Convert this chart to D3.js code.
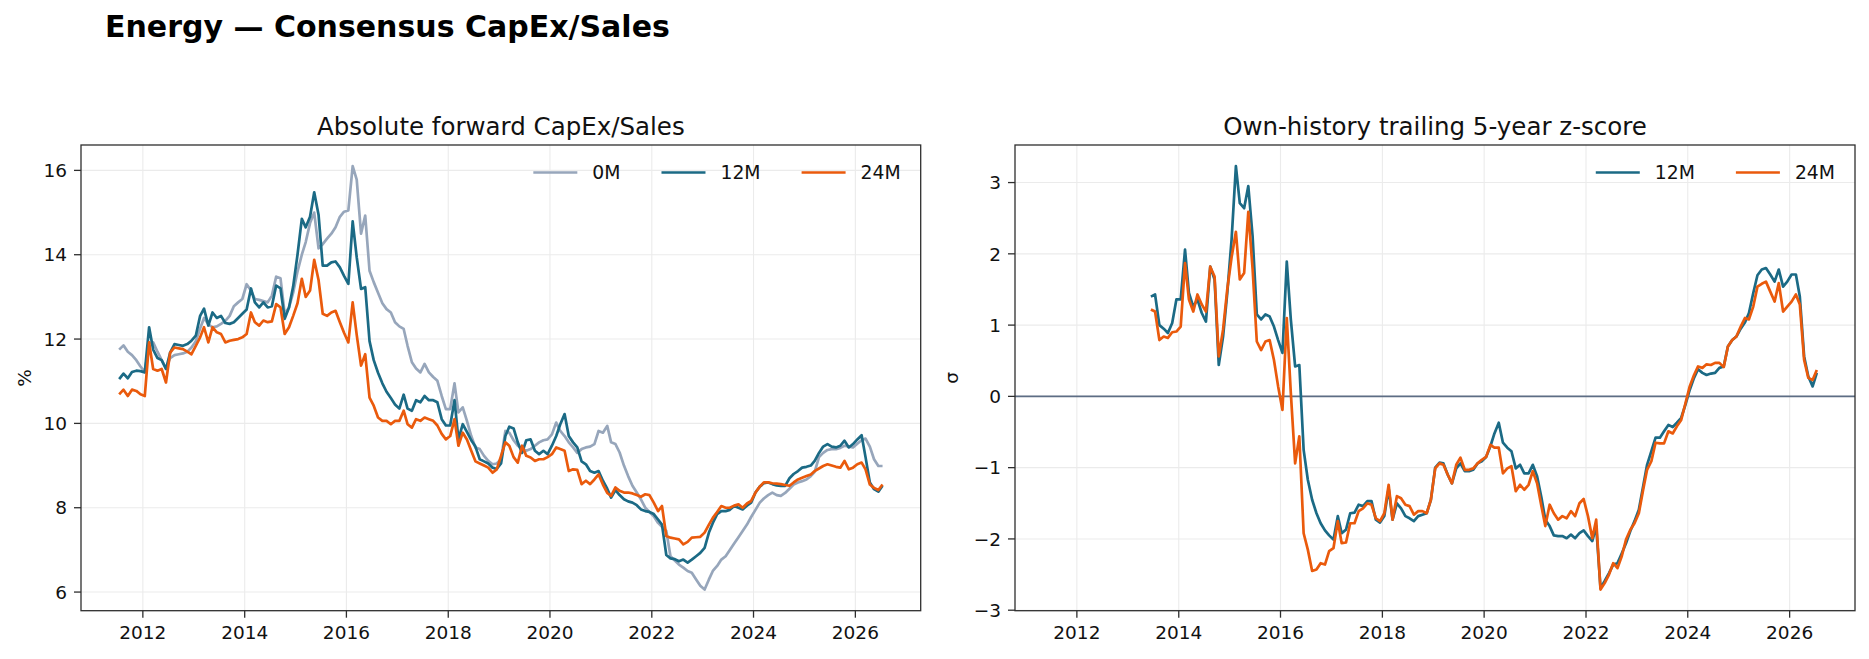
<!DOCTYPE html>
<html>
<head>
<meta charset="utf-8">
<title>Energy — Consensus CapEx/Sales</title>
<script src="https://d3js.org/d3.v7.min.js"></script>
<style>
  body { margin: 0; background: #fff; }
  svg { display: block; font-family: "DejaVu Sans", sans-serif; }
</style>
</head>
<body>
<svg id="chart" width="1869" height="659"></svg>
<script>
// monthly consensus CapEx/Sales (%), first observation mid-July 2011
const firstMonth = new Date(2011, 6, 15);
const capex0M = [
  11.75, 11.85, 11.7, 11.62, 11.5, 11.35, 11.22, 11.9, 11.92, 11.7, 11.5, 11.3,
  11.55, 11.62, 11.64, 11.66, 11.7, 11.8, 11.95, 12.25, 12.5, 12.35, 12.28, 12.3,
  12.36, 12.43, 12.55, 12.78, 12.87, 12.95, 13.3, 13.15, 12.95, 12.93, 12.9, 12.87,
  13.03, 13.48, 13.44, 12.6, 12.75, 13.1, 13.6, 14.0, 14.3, 14.75, 15.0, 14.15,
  14.25, 14.38, 14.5, 14.65, 14.9, 15.02, 15.05, 16.1, 15.78, 14.5, 14.93, 13.62,
  13.35, 13.1, 12.85, 12.71, 12.63, 12.4, 12.3, 12.24, 11.84, 11.45, 11.3, 11.21,
  11.41, 11.21, 11.1, 11.01, 10.65, 10.34, 10.34, 10.95, 10.26, 10.38, 10.06, 9.7,
  9.43, 9.39, 9.23, 9.11, 9.03, 9.05, 9.15, 9.82, 9.78, 9.6, 9.47, 9.4,
  9.35, 9.39, 9.47, 9.55, 9.6, 9.62, 9.74, 10.02, 9.82, 9.7, 9.55, 9.43,
  9.3, 9.39, 9.43, 9.45, 9.51, 9.82, 9.78, 9.94, 9.55, 9.51, 9.31, 9.0,
  8.75, 8.52, 8.36, 8.2, 8.0, 7.9, 7.8, 7.64, 7.55, 7.45, 6.85, 6.75,
  6.65, 6.58, 6.5, 6.46, 6.3, 6.15, 6.06, 6.3, 6.5, 6.62, 6.77, 6.85,
  7.0, 7.15, 7.3, 7.45, 7.6, 7.78, 7.95, 8.12, 8.22, 8.3, 8.36, 8.3,
  8.28, 8.35, 8.45, 8.55, 8.6, 8.63, 8.67, 8.75, 8.85, 9.2, 9.3, 9.37,
  9.39, 9.39, 9.42, 9.47, 9.45, 9.43, 9.52, 9.6, 9.64, 9.45, 9.15, 8.99,
  8.99
];
const capex12M = [
  11.05, 11.18, 11.07, 11.22, 11.25, 11.24, 11.21, 12.28, 11.75, 11.55, 11.5, 11.29,
  11.68, 11.88, 11.86, 11.84, 11.88, 11.96, 12.08, 12.55, 12.72, 12.32, 12.63, 12.5,
  12.55, 12.38, 12.36, 12.4, 12.5, 12.6, 12.7, 13.2, 12.87, 12.75, 12.87, 12.75,
  12.78, 13.27, 13.2, 12.48, 12.75, 13.25, 14.0, 14.85, 14.65, 14.9, 15.48, 14.95,
  13.74, 13.74, 13.82, 13.84, 13.7, 13.5, 13.31, 14.79, 13.94, 13.19, 13.23, 11.95,
  11.5, 11.2, 10.95, 10.75, 10.6, 10.45, 10.35, 10.68, 10.35, 10.3, 10.55, 10.5,
  10.65, 10.55, 10.55, 10.5, 10.1, 9.95, 9.95, 10.55, 9.62, 9.98, 9.8, 9.6,
  9.45, 9.15, 9.1, 9.05, 8.95, 8.92, 9.05, 9.7, 9.92, 9.88, 9.55, 9.3,
  9.6, 9.62, 9.35, 9.27, 9.35, 9.27, 9.47, 9.7, 9.98, 10.22, 9.7, 9.55,
  9.43, 9.1, 9.03, 8.87, 8.83, 8.87, 8.64, 8.45, 8.24, 8.42, 8.3, 8.2,
  8.15, 8.12, 8.06, 7.96, 7.92, 7.9, 7.85, 7.72, 7.6, 6.88, 6.8, 6.78,
  6.73, 6.77, 6.7, 6.77, 6.85, 6.93, 7.05, 7.41, 7.64, 7.85, 7.92, 7.92,
  7.95, 8.04, 8.0, 7.96, 8.05, 8.12, 8.36, 8.5, 8.58, 8.6, 8.56, 8.53,
  8.52, 8.52, 8.7, 8.8, 8.87, 8.95, 8.97, 9.0, 9.11, 9.3, 9.45, 9.51,
  9.45, 9.43, 9.47, 9.59, 9.43, 9.51, 9.62, 9.72, 9.2, 8.6, 8.44, 8.38,
  8.52
];
const capex24M = [
  10.69, 10.8, 10.65, 10.8, 10.77, 10.69, 10.65, 11.92, 11.29, 11.25, 11.29, 10.97,
  11.68, 11.8, 11.78, 11.76, 11.7, 11.64, 11.84, 12.04, 12.28, 11.92, 12.28, 12.16,
  12.12, 11.92, 11.96, 11.98, 12.0, 12.04, 12.12, 12.63, 12.4, 12.32, 12.44, 12.4,
  12.42, 12.83, 12.75, 12.12, 12.28, 12.55, 12.85, 13.43, 13.0, 13.15, 13.88, 13.4,
  12.6, 12.55, 12.63, 12.67, 12.4, 12.15, 11.92, 12.87, 12.1, 11.37, 11.64, 10.61,
  10.42, 10.14, 10.06, 10.06, 9.98, 10.06, 10.06, 10.3, 9.98, 9.9, 10.1, 10.06,
  10.14, 10.1, 10.06, 9.95, 9.75, 9.62, 9.7, 10.1, 9.47, 9.78, 9.62, 9.35,
  9.1, 9.05, 9.0, 8.95, 8.83, 8.91, 9.23, 9.55, 9.47, 9.2, 9.07, 9.47,
  9.23, 9.19, 9.11, 9.15, 9.15, 9.2, 9.27, 9.43, 9.39, 9.35, 8.87, 8.91,
  8.9, 8.56, 8.64, 8.56, 8.67, 8.79, 8.55, 8.35, 8.28, 8.48, 8.4, 8.36,
  8.36, 8.34, 8.3, 8.26, 8.32, 8.3, 8.12, 7.92, 8.04, 7.33, 7.29, 7.27,
  7.25, 7.13, 7.19, 7.29, 7.3, 7.31, 7.41, 7.6, 7.76, 7.9, 8.04, 8.0,
  8.0, 8.05, 8.08, 8.0, 8.1, 8.16, 8.36, 8.5, 8.6, 8.6, 8.58, 8.57,
  8.56, 8.54, 8.52, 8.6, 8.67, 8.71, 8.75, 8.79, 8.87, 8.93, 8.99, 9.03,
  9.0, 8.97, 8.95, 9.11, 8.91, 8.95, 9.03, 9.07, 8.91, 8.55, 8.47, 8.42,
  8.55
];

// trailing 5-year z-scores, first observation mid-June 2013
const zFirstMonth = new Date(2013, 5, 15);
const z12M = [
  1.4, 1.43, 1.0, 0.95, 0.89, 1.03, 1.36, 1.36, 2.06, 1.45, 1.26, 1.36,
  1.17, 1.05, 1.82, 1.64, 0.44, 0.84, 1.45, 2.2, 3.23, 2.71, 2.64, 2.95,
  2.24, 1.15, 1.08, 1.15, 1.12, 0.98, 0.79, 0.61, 1.89, 1.08, 0.42, 0.44,
  -0.75, -1.17, -1.45, -1.64, -1.78, -1.88, -1.95, -2.01, -1.68, -1.92, -1.87, -1.64,
  -1.63, -1.52, -1.54, -1.47, -1.47, -1.73, -1.77, -1.68, -1.29, -1.73, -1.5, -1.57,
  -1.68, -1.71, -1.75, -1.68, -1.66, -1.64, -1.45, -1.0, -0.93, -0.94, -1.1, -1.22,
  -1.01, -0.94, -1.05, -1.05, -1.03, -0.94, -0.91, -0.85, -0.7, -0.52, -0.37, -0.65,
  -0.72, -0.77, -1.01, -0.96, -1.08, -1.08, -0.96, -1.12, -1.42, -1.73, -1.82, -1.95,
  -1.96, -1.96, -1.99, -1.94, -1.99, -1.92, -1.88, -1.96, -2.03, -1.82, -2.69, -2.59,
  -2.48, -2.36, -2.34, -2.2, -2.06, -1.89, -1.75, -1.59, -1.26, -0.96, -0.77, -0.58,
  -0.58, -0.49, -0.4, -0.43, -0.37, -0.3, -0.12, 0.09, 0.26, 0.38, 0.33, 0.3,
  0.32, 0.33, 0.4, 0.42, 0.7, 0.79, 0.84, 0.95, 1.04, 1.17, 1.45, 1.7,
  1.78, 1.8, 1.71, 1.61, 1.78, 1.54, 1.61, 1.71, 1.71, 1.4, 0.56, 0.28,
  0.14, 0.33
];
const z24M = [
  1.22, 1.19, 0.79, 0.84, 0.82, 0.9, 0.91, 0.98, 1.87, 1.36, 1.19, 1.43,
  1.29, 1.19, 1.82, 1.68, 0.56, 0.94, 1.5, 1.95, 2.31, 1.64, 1.73, 2.59,
  1.78, 0.77, 0.65, 0.77, 0.79, 0.51, 0.14, -0.19, 1.1, 0.05, -0.94, -0.56,
  -1.92, -2.15, -2.45, -2.43, -2.34, -2.36, -2.17, -2.13, -1.75, -2.06, -2.05, -1.78,
  -1.78, -1.61, -1.57, -1.5, -1.52, -1.71, -1.75, -1.64, -1.24, -1.73, -1.4, -1.43,
  -1.52, -1.54, -1.66, -1.61, -1.61, -1.64, -1.45, -1.01, -0.94, -0.96, -1.1, -1.22,
  -0.96, -0.86, -1.03, -1.03, -1.01, -0.94, -0.89, -0.85, -0.68, -0.72, -0.72, -1.08,
  -1.01, -0.98, -1.33, -1.24, -1.31, -1.24, -1.05, -1.22, -1.54, -1.82, -1.52, -1.64,
  -1.73, -1.68, -1.71, -1.61, -1.68, -1.5, -1.44, -1.68, -1.99, -1.73, -2.71, -2.62,
  -2.5, -2.34, -2.41, -2.24, -2.01, -1.87, -1.78, -1.64, -1.31, -1.03, -0.91, -0.65,
  -0.66, -0.66, -0.49, -0.52, -0.42, -0.33, -0.1, 0.14, 0.3, 0.42, 0.4, 0.45,
  0.44, 0.47, 0.47, 0.41, 0.7, 0.79, 0.84, 0.98, 1.1, 1.08, 1.26, 1.54,
  1.58, 1.61, 1.47, 1.33, 1.59, 1.19, 1.26, 1.33, 1.43, 1.29, 0.51, 0.26,
  0.23, 0.37
];

const seriesColors = { "0M": "#97a6bb", "12M": "#1b6a85", "24M": "#ea5a0c" };
const yearTicks = [2012, 2014, 2016, 2018, 2020, 2022, 2024, 2026];
const absTicks = [6, 8, 10, 12, 14, 16];
const zTicks = [-3, -2, -1, 0, 1, 2, 3];

const toSeries = (start, values) =>
  values.map((v, i) => ({ date: d3.timeMonth.offset(start, i), value: v }));

const absSeries = [
  { name: "0M", points: toSeries(firstMonth, capex0M) },
  { name: "12M", points: toSeries(firstMonth, capex12M) },
  { name: "24M", points: toSeries(firstMonth, capex24M) }
];
const zSeries = [
  { name: "12M", points: toSeries(zFirstMonth, z12M) },
  { name: "24M", points: toSeries(zFirstMonth, z24M) }
];

const svg = d3.select("#chart");
svg.append("rect").attr("width", 1869).attr("height", 659).attr("fill", "#fff");

svg.append("text")
  .attr("x", 105).attr("y", 37)
  .attr("font-size", 30).attr("font-weight", "bold")
  .text("Energy — Consensus CapEx/Sales");

// matplotlib-like 5% padding around the data
function padded(lo, hi) {
  const m = (hi - lo) * 0.05;
  return [lo - m, hi + m];
}

const allDates = absSeries[0].points.map(d => d.date);
const t0 = allDates[0].getTime(), t1 = allDates[allDates.length - 1].getTime();
const xDomain = padded(t0, t1).map(t => new Date(t));

const fmt = v => (v < 0 ? "\u2212" + Math.abs(v) : String(v));

function drawPanel(opt) {
  const { left, right, top, bottom } = opt.box;
  const g = svg.append("g");

  const x = d3.scaleTime().domain(xDomain).range([left, right]);
  const vals = opt.series.flatMap(s => s.points.map(p => p.value));
  const y = d3.scaleLinear().domain(padded(d3.min(vals), d3.max(vals))).range([bottom, top]);

  // grid
  g.append("g").selectAll("line").data(yearTicks).join("line")
    .attr("x1", d => x(new Date(d, 0, 1))).attr("x2", d => x(new Date(d, 0, 1)))
    .attr("y1", top).attr("y2", bottom)
    .attr("stroke", "#ebebeb").attr("stroke-width", 1.1);
  g.append("g").selectAll("line").data(opt.yTicks).join("line")
    .attr("x1", left).attr("x2", right)
    .attr("y1", d => y(d)).attr("y2", d => y(d))
    .attr("stroke", "#ebebeb").attr("stroke-width", 1.1);

  if (opt.zeroLine) {
    g.append("line")
      .attr("x1", left).attr("x2", right)
      .attr("y1", y(0)).attr("y2", y(0))
      .attr("stroke", "#5d6d84").attr("stroke-width", 1.6);
  }

  const line = d3.line().x(d => x(d.date)).y(d => y(d.value));
  g.append("g").selectAll("path").data(opt.series).join("path")
    .attr("d", d => line(d.points))
    .attr("fill", "none")
    .attr("stroke", d => seriesColors[d.name])
    .attr("stroke-width", 2.7)
    .attr("stroke-linejoin", "round");

  // spines
  g.append("rect")
    .attr("x", left).attr("y", top)
    .attr("width", right - left).attr("height", bottom - top)
    .attr("fill", "none").attr("stroke", "#2e2e2e").attr("stroke-width", 1.3);

  // x ticks
  const xt = g.append("g").selectAll("g").data(yearTicks).join("g")
    .attr("transform", d => `translate(${x(new Date(d, 0, 1))},${bottom})`);
  xt.append("line").attr("y2", 7).attr("stroke", "#2e2e2e").attr("stroke-width", 1.3);
  xt.append("text").attr("y", 28).attr("text-anchor", "middle")
    .attr("font-size", 18.5).attr("fill", "#111").text(d => d);

  // y ticks
  const yt = g.append("g").selectAll("g").data(opt.yTicks).join("g")
    .attr("transform", d => `translate(${left},${y(d)})`);
  yt.append("line").attr("x2", -7).attr("stroke", "#2e2e2e").attr("stroke-width", 1.3);
  yt.append("text").attr("x", -14).attr("dy", "0.36em").attr("text-anchor", "end")
    .attr("font-size", 18.5).attr("fill", "#111").text(d => fmt(d));

  g.append("text")
    .attr("transform", `translate(${opt.yLabelX},${(top + bottom) / 2}) rotate(-90)`)
    .attr("text-anchor", "middle").attr("dy", "0.36em")
    .attr("font-size", 18.5).attr("fill", "#111").text(opt.yLabel);

  g.append("text")
    .attr("x", (left + right) / 2).attr("y", top - 10)
    .attr("text-anchor", "middle").attr("font-size", 24.5).attr("fill", "#111")
    .text(opt.title);

  // legend, laid out from the right edge
  const leg = g.append("g");
  let end = right - 20;
  const ly = top + 27.5;
  opt.series.slice().reverse().forEach(s => {
    const t = leg.append("text")
      .attr("y", ly).attr("dy", "0.36em")
      .attr("font-size", 18.8).attr("fill", "#111").text(s.name);
    const w = t.node().getComputedTextLength();
    const tx = end - w;
    t.attr("x", tx);
    leg.append("line")
      .attr("x1", tx - 15 - 44).attr("x2", tx - 15)
      .attr("y1", ly).attr("y2", ly)
      .attr("stroke", seriesColors[s.name]).attr("stroke-width", 2.7);
    end = tx - 15 - 44 - 41;
  });
}

drawPanel({
  box: { left: 81, right: 920.7, top: 145, bottom: 610.7 },
  series: absSeries,
  yTicks: absTicks,
  yLabel: "%",
  yLabelX: 24,
  title: "Absolute forward CapEx/Sales",
  zeroLine: false
});

drawPanel({
  box: { left: 1015, right: 1855, top: 145, bottom: 610.7 },
  series: zSeries,
  yTicks: zTicks,
  yLabel: "σ",
  yLabelX: 951,
  title: "Own-history trailing 5-year z-score",
  zeroLine: true
});
</script>
</body>
</html>
